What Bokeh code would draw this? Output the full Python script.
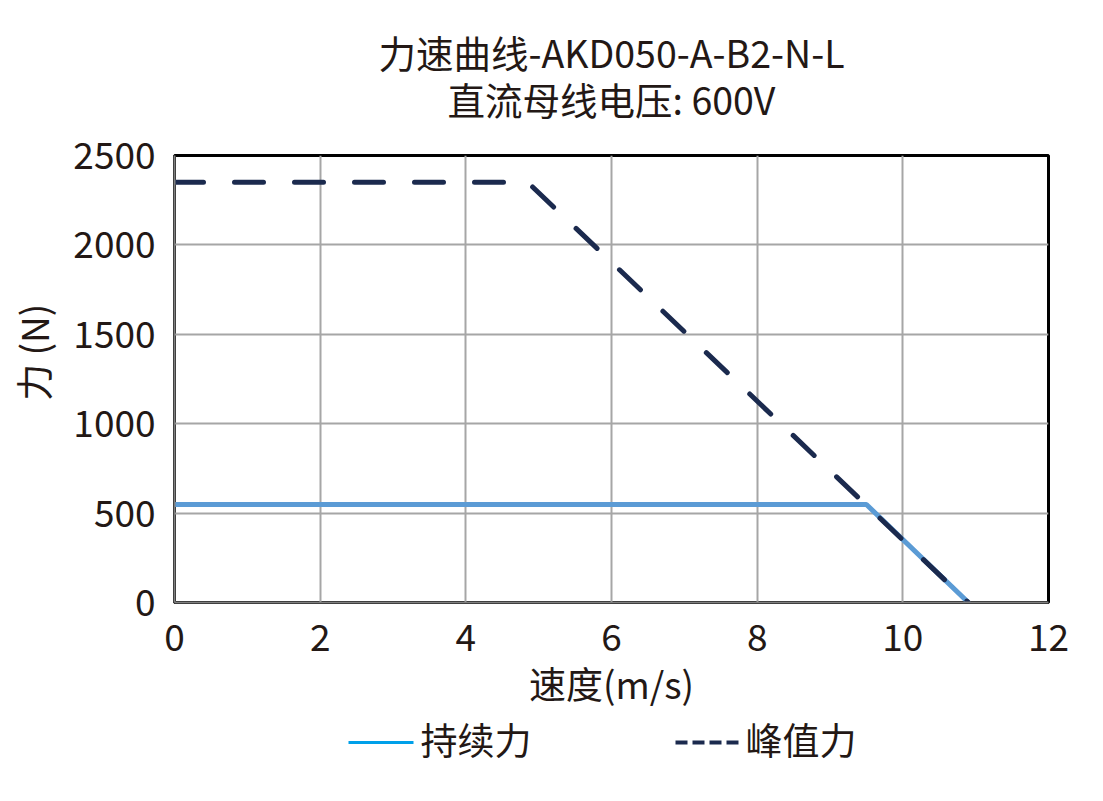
from bokeh.plotting import figure
from bokeh.models import Range1d, FixedTicker
from bokeh.layouts import column
from bokeh.core.properties import value
from bokeh.embed import file_html
from bokeh.resources import INLINE

# ---- data ----
cont_speed = [0, 9.5, 10.9]
cont_force = [548, 548, 0]
peak_speed = [0, 4.85, 10.9]
peak_force = [2350, 2350, 0]
x_ticks = [0, 2, 4, 6, 8, 10, 12]
y_ticks = [0, 500, 1000, 1500, 2000, 2500]
title_lines = ["力速曲线-AKD050-A-B2-N-L", "直流母线电压: 600V"]
x_label = "速度(m/s)"
y_label = "力 (N)"
names = ["持续力", "峰值力"]

FONT = "Noto Sans CJK SC"
TXT = "#231815"
BLUE = "#5B9BD5"
NAVY = "#1B2A4E"
LB, RB = 174, 39


def strip(h):
    f = figure(width=1087, height=h, output_backend="svg", toolbar_location=None,
               x_range=Range1d(174, 1048), y_range=Range1d(0, h),
               min_border_left=LB, min_border_right=RB, min_border_top=0,
               min_border_bottom=0, outline_line_color=None)
    f.axis.visible = False
    f.grid.visible = False
    f.title.visible = False
    return f


# ---- title strip ----
TH = 126
tt = strip(TH)
tt.text([611, 611], [TH - 51, TH - 98], text=title_lines, text_font=value(FONT),
        text_font_size="37.5px", text_color=TXT, text_baseline="middle", text_align="center")

# ---- main plot ----
p = figure(width=1087, height=586, output_backend="svg", toolbar_location=None,
           x_range=Range1d(0, 12), y_range=Range1d(0, 2500),
           min_border_left=LB, min_border_right=RB, min_border_top=29,
           min_border_bottom=110)
p.title.visible = False
p.outline_line_color = "black"
p.outline_line_width = 3
p.background_fill_color = "white"
p.border_fill_color = "white"

for ax in (p.xaxis[0], p.yaxis[0]):
    ax.major_label_text_font = FONT
    ax.major_label_text_font_size = "37px"
    ax.major_label_text_color = TXT
    ax.axis_label_text_font = FONT
    ax.axis_label_text_font_size = "37px"
    ax.axis_label_text_font_style = "normal"
    ax.axis_label_text_color = TXT
    ax.major_tick_line_color = None
    ax.minor_tick_line_color = None
    ax.axis_line_color = "#808080"
    ax.axis_line_width = 2

p.xaxis.ticker = FixedTicker(ticks=x_ticks)
p.yaxis.ticker = FixedTicker(ticks=y_ticks)
p.xaxis.axis_label = x_label
# leading wide spaces lift the visible y title a little above centre, as in the reference
p.yaxis.axis_label = "\u3000\u00a0\u00a0" + y_label
p.xaxis.major_label_standoff = 15
p.yaxis.major_label_standoff = 13
p.xaxis.axis_label_standoff = 2
p.yaxis.axis_label_standoff = 10
p.yaxis.major_label_orientation = "horizontal"

p.xgrid.ticker = FixedTicker(ticks=x_ticks)
p.ygrid.ticker = FixedTicker(ticks=y_ticks)
p.grid.grid_line_color = "#A6A6A6"
p.grid.grid_line_width = 2

p.line(cont_speed, cont_force, line_color=BLUE, line_width=5)
p.line(peak_speed, peak_force, line_color=NAVY, line_width=5,
       line_dash="29 31", line_cap="round")

# ---- legend strip ----
LH = 80
lg = strip(LH)
lg.line([348, 413], [LH - 30, LH - 30], line_color="#00A0E9", line_width=3)
lg.line([675, 741], [LH - 30, LH - 30], line_color=NAVY, line_width=4, line_dash="12 5")
lg.text([420, 745], [LH - 26, LH - 26], text=names, text_font=value(FONT),
        text_font_size="37px", text_color=TXT, text_baseline="middle", text_align="left")

open("out.html", "w").write(file_html(column(tt, p, lg, spacing=0), INLINE))
